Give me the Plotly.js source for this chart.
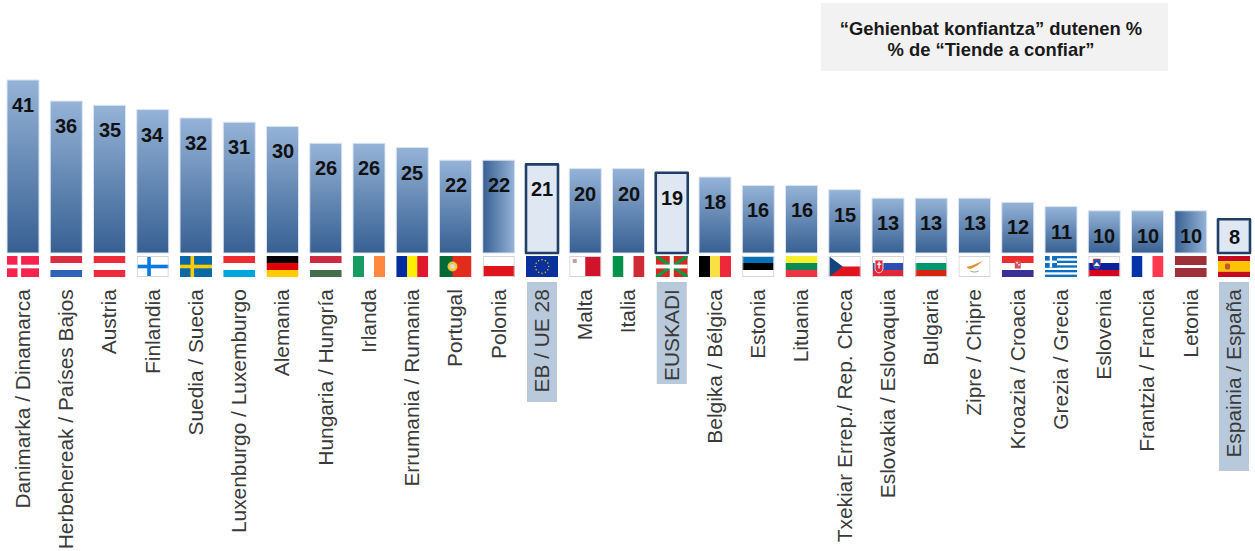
<!DOCTYPE html>
<html>
<head>
<meta charset="utf-8">
<script src="https://cdn.plot.ly/plotly-3.0.1.min.js"></script>
<style>html,body{margin:0;padding:0;background:#fff}#chart{width:1255px;height:551px}</style>
</head>
<body>
<div id="chart"></div>
<script>
const categories = ["Danimarka / Dinamarca","Herbehereak / Países Bajos","Austria","Finlandia","Suedia / Suecia","Luxenburgo / Luxemburgo","Alemania","Hungaria / Hungría","Irlanda","Errumania / Rumania","Portugal","Polonia","EB / UE 28","Malta","Italia","EUSKADI","Belgika / Bélgica","Estonia","Lituania","Txekiar Errep./ Rep. Checa","Eslovakia / Eslovaquia","Bulgaria","Zipre / Chipre","Kroazia / Croacia","Grezia / Grecia","Eslovenia","Frantzia / Francia","Letonia","Espainia / España"];
const values = [41,36,35,34,32,31,30,26,26,25,22,22,21,20,20,19,18,16,16,15,13,13,13,12,11,10,10,10,8];
const highlighted = ["EB / UE 28","EUSKADI","Espainia / España"];
const sidewaysGradient = ["Polonia","Letonia"];
const labelBoxEnds = {"EB / UE 28":402,"EUSKADI":384,"Espainia / España":471};

function hb(a,b,c,w){w=w||[7,7,7];return `<rect width="32" height="${w[0]}" fill="${a}"/><rect y="${w[0]}" width="32" height="${w[1]}" fill="${b}"/><rect y="${w[0]+w[1]}" width="32" height="${w[2]}" fill="${c}"/>`;}
function vb(a,b,c){return `<rect width="11" height="21" fill="${a}"/><rect x="11" width="10" height="21" fill="${b}"/><rect x="21" width="11" height="21" fill="${c}"/>`;}
function cross(bg,c){return `<rect width="32" height="21" fill="${bg}"/><rect x="10.5" width="3.6" height="21" fill="${c}"/><rect y="8.7" width="32" height="3.6" fill="${c}"/>`;}
const B='<rect x=".5" y=".5" width="31" height="20" fill="none" stroke="#d4d4d4"/>';
function euStars(){let s='<rect width="32" height="21" fill="#0a309c"/>';for(let k=0;k<12;k++){const a=k*Math.PI/6;s+=`<circle cx="${(16+6.7*Math.cos(a)).toFixed(1)}" cy="${(10.5+6.7*Math.sin(a)).toFixed(1)}" r=".75" fill="#e6c21e"/>`;}return s;}
const flags = [
 cross('#f9224e','#fff'),
 hb('#dc2c40','#fff','#2f63b9'),
 hb('#ee2b3b','#fff','#ee2b3b'),
 cross('#fff','#0a78e2')+B,
 cross('#0a68a4','#ffcb05'),
 hb('#ee2b2f','#fff','#00a5dc'),
 hb('#000','#e00000','#ffcc00'),
 hb('#cc2b42','#fff','#436f4d'),
 vb('#169b62','#fff','#ff883e'),
 vb('#002b9f','#ffee00','#e0182d'),
 '<rect width="32" height="21" fill="#e22c1c"/><rect width="13" height="21" fill="#046a38"/><circle cx="13" cy="10.5" r="5" fill="#f4c430"/><circle cx="13" cy="10.5" r="2.6" fill="#d9d9d9"/>',
 '<rect width="32" height="21" fill="#fff"/><rect y="10" width="32" height="11" fill="#e0141e"/>'+B,
 euStars(),
 '<rect width="32" height="21" fill="#fff"/><rect x="16" width="16" height="21" fill="#cf142b"/><rect x="3.5" y="3" width="4" height="4" fill="#c9a0a0"/>'+B,
 vb('#009246','#fff','#ce2b37'),
 '<rect width="32" height="21" fill="#d52b1e"/><path d="M0 0L32 21M32 0L0 21" stroke="#009b48" stroke-width="3"/><rect x="14" width="4" height="21" fill="#fff"/><rect y="8.6" width="32" height="3.8" fill="#fff"/>',
 vb('#000','#fae042','#ed2939'),
 hb('#0072b8','#000','#fff')+B,
 hb('#f8ef2f','#0a8a55','#ee3342'),
 '<rect width="32" height="21" fill="#fff"/><rect y="10.5" width="32" height="10.5" fill="#e0141e"/><path d="M0 0L14 10.5L0 21Z" fill="#11457e"/>'+B,
 hb('#fff','#2a4fb0','#e0283a')+'<path d="M3 4h8v8q0 4-4 5q-4-1-4-5Z" fill="#e0283a" stroke="#fff" stroke-width=".8"/><rect x="6.4" y="5.5" width="1.3" height="7" fill="#fff"/><rect x="4.8" y="7.6" width="4.5" height="1.2" fill="#fff"/>'+B,
 hb('#fff','#00966e','#d62612')+B,
 '<rect width="32" height="21" fill="#fff"/><path d="M8 11q5-1 9-3l7-3q-3 3-6 5q-4 2-6 3q-3 0-4-2Z" fill="#e0922f"/><path d="M12 15q4 2 8 0" fill="none" stroke="#9bb08a" stroke-width="1"/>'+B,
 hb('#ee2b2f','#fff','#3a2f95')+'<rect x="13" y="4.5" width="6" height="8" fill="#d9505a"/><rect x="14.5" y="6" width="1.5" height="1.5" fill="#fff"/><rect x="16.5" y="8" width="1.5" height="1.5" fill="#fff"/>',
 (function(){let s='<rect width="32" height="21" fill="#fff"/>';for(let k=0;k<5;k++){s+=`<rect y="${k*4.66}" width="32" height="2.33" fill="#0d6ebd"/>`;}return s+'<rect width="12" height="11.6" fill="#0d6ebd"/><rect x="4.7" width="2.4" height="11.6" fill="#fff"/><rect y="4.6" width="12" height="2.4" fill="#fff"/>';})(),
 hb('#fff','#0a1f9c','#d6001c')+'<path d="M5 3h7v6q0 3-3.5 4q-3.5-1-3.5-4Z" fill="#1d4fb5" stroke="#e04040" stroke-width=".7"/><path d="M5.5 10l3-4l3 4Z" fill="#fff"/>'+B,
 vb('#0032a8','#fff','#ff3850'),
 hb('#9e3039','#fff','#9e3039',[9,3,9]),
 hb('#c60b1e','#ffc400','#c60b1e',[5.25,10.5,5.25])+'<rect x="7" y="7.5" width="5" height="6" rx="1.5" fill="#c8552b"/>'
];

const pxPerUnit = 4.22, baselinePx = 253, plotH = 284;
const toPaper = px => (plotH - px) / plotH;
const toValue = px => (baselinePx - px) / pxPerUnit;

const isHi = c => highlighted.includes(c);

const bars = {
  type: 'bar',
  x: categories,
  y: values,
  width: categories.map(() => 0.74),
  marker: {
    color: categories.map(c => isHi(c) ? '#dfe7f3' : '#6688b4'),
    line: {
      color: categories.map(c => isHi(c) ? '#1f3f66' : '#dbe5f1'),
      width: categories.map(c => isHi(c) ? 2.6 : 1)
    }
  },
  hoverinfo: 'skip',
  showlegend: false
};

const valueLabels = categories.map((c, i) => ({
  xref: 'x', yref: 'y', x: c, y: values[i],
  yshift: values[i] < 9 ? -18 : -25,
  text: String(values[i]),
  showarrow: false, xanchor: 'center', yanchor: 'middle',
  font: {family: '"Liberation Sans", Arial, sans-serif', size: 20, color: '#111111', weight: 700}
}));

const flagImages = categories.map((c, i) => ({
  source: 'data:image/svg+xml;utf8,' + encodeURIComponent(`<svg xmlns="http://www.w3.org/2000/svg" width="64" height="42" viewBox="0 0 32 21" preserveAspectRatio="none">${flags[i]}</svg>`),
  xref: 'x', yref: 'y', x: c, y: toValue(256),
  sizex: 0.74, sizey: 21 / pxPerUnit,
  xanchor: 'center', yanchor: 'top', sizing: 'stretch', layer: 'above'
}));

const labelBoxes = highlighted.map(c => ({
  type: 'rect', layer: 'below', xref: 'x', xsizemode: 'pixel', xanchor: c,
  x0: -15, x1: 15, yref: 'paper', y0: toPaper(282), y1: toPaper(labelBoxEnds[c]),
  fillcolor: '#b9c9dc', line: {width: 0}
}));
const titleBox = {
  type: 'rect', layer: 'below', xref: 'paper', yref: 'paper',
  x0: 821 / 1255, x1: 1168 / 1255, y0: toPaper(71), y1: toPaper(3),
  fillcolor: '#f2f2f2', line: {width: 0}
};

const layout = {
  width: 1255, height: 551,
  margin: {l: 0, r: 0, t: 0, b: 551 - plotH, pad: 0},
  paper_bgcolor: '#ffffff', plot_bgcolor: '#ffffff',
  showlegend: false,
  title: {
    text: '“Gehienbat konfiantza” dutenen %<br>% de “Tiende a confiar”',
    x: 991 / 1255, xref: 'paper', xanchor: 'center',
    y: 1 - 35 / 551, yref: 'container', yanchor: 'middle',
    font: {family: '"Liberation Sans", Arial, sans-serif', size: 18.4, color: '#1a1a1a', weight: 700}
  },
  xaxis: {
    type: 'category', categoryorder: 'array', categoryarray: categories,
    range: [-23 / 43.25, (1255 - 23) / 43.25],
    tickangle: -90, ticks: '', showgrid: false, zeroline: false, showline: false,
    automargin: false, tickmode: 'array', tickvals: categories, ticktext: categories,
    tickfont: {family: '"Liberation Sans", Arial, sans-serif', size: 20.9, color: '#3a3a3a'}
  },
  yaxis: {
    visible: false, range: [toValue(plotH), toValue(0)], automargin: false, fixedrange: true
  },
  images: flagImages,
  shapes: [titleBox, ...labelBoxes],
  annotations: valueLabels
};

Plotly.newPlot('chart', [bars], layout, {displayModeBar: false, staticPlot: true}).then(gd => {
  const svg = gd.querySelector('svg.main-svg');
  const NS = 'http://www.w3.org/2000/svg';
  const defs = svg.querySelector('defs') || svg.insertBefore(document.createElementNS(NS, 'defs'), svg.firstChild);
  const makeGrad = (id, x2, y2, from, to) => {
    const g = document.createElementNS(NS, 'linearGradient');
    g.setAttribute('id', id);
    g.setAttribute('x1', '0'); g.setAttribute('y1', '0');
    g.setAttribute('x2', x2); g.setAttribute('y2', y2);
    [[0, from], [1, to]].forEach(([o, col]) => {
      const s = document.createElementNS(NS, 'stop');
      s.setAttribute('offset', o); s.setAttribute('stop-color', col);
      g.appendChild(s);
    });
    defs.appendChild(g);
  };
  makeGrad('barDown', '0', '1', '#95b3d7', '#376092');
  makeGrad('barSide', '1', '0', '#376092', '#95b3d7');
  gd.querySelectorAll('.barlayer .point path').forEach((p, i) => {
    const c = categories[i];
    if (isHi(c)) { p.style.setProperty('stroke-linejoin', 'round'); return; }
    p.style.setProperty('fill', sidewaysGradient.includes(c) ? 'url(#barSide)' : 'url(#barDown)');
  });
  const titleLines = document.querySelectorAll('.gtitle tspan.line');
  if (titleLines.length > 1) {
    titleLines[1].setAttribute('y', parseFloat(titleLines[1].getAttribute('y')) - 2.5);
  }
});
</script>
</body>
</html>
